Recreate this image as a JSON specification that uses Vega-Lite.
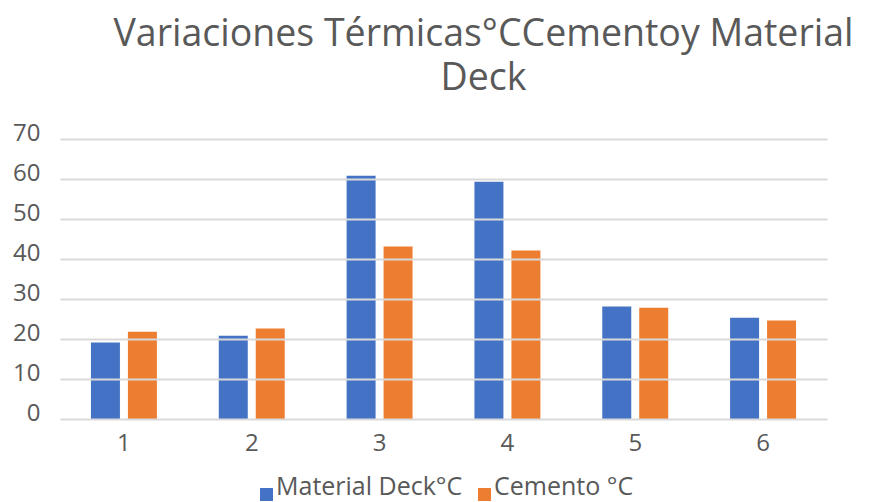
{
  "$schema": "https://vega.github.io/schema/vega-lite/v6.json",
  "width": 767,
  "height": 280,
  "autosize": {"type": "none"},
  "padding": {"left": 60, "top": 139, "right": 56, "bottom": 84},
  "background": "white",
  "title": {
    "text": ["Variaciones Térmicas°CCementoy Material", "Deck"],
    "anchor": "middle",
    "dx": 40,
    "fontSize": 37.5,
    "lineHeight": 44,
    "font": "Open Sans",
    "fontWeight": "normal",
    "color": "#595959",
    "offset": 24
  },
  "data": {
    "values": [
      {"punto": "1", "serie": "Material Deck°C", "temp": 19.1},
      {"punto": "1", "serie": "Cemento °C", "temp": 21.8},
      {"punto": "2", "serie": "Material Deck°C", "temp": 20.8},
      {"punto": "2", "serie": "Cemento °C", "temp": 22.6},
      {"punto": "3", "serie": "Material Deck°C", "temp": 60.8},
      {"punto": "3", "serie": "Cemento °C", "temp": 43.1},
      {"punto": "4", "serie": "Material Deck°C", "temp": 59.3},
      {"punto": "4", "serie": "Cemento °C", "temp": 42.1},
      {"punto": "5", "serie": "Material Deck°C", "temp": 28.1},
      {"punto": "5", "serie": "Cemento °C", "temp": 27.8},
      {"punto": "6", "serie": "Material Deck°C", "temp": 25.3},
      {"punto": "6", "serie": "Cemento °C", "temp": 24.6}
    ]
  },
  "mark": {"type": "bar"},
  "encoding": {
    "x": {
      "field": "punto",
      "type": "nominal",
      "scale": {"paddingInner": 0.484, "paddingOuter": 0.242},
      "axis": {
        "title": null,
        "labelAngle": 0,
        "labelFont": "Open Sans",
        "labelFontSize": 24,
        "labelColor": "#595959",
        "labelPadding": 12,
        "ticks": false,
        "domain": false,
        "grid": false
      }
    },
    "xOffset": {
      "field": "serie",
      "type": "nominal",
      "sort": ["Material Deck°C", "Cemento °C"],
      "scale": {"paddingInner": 0.216, "paddingOuter": 0}
    },
    "y": {
      "field": "temp",
      "type": "quantitative",
      "scale": {"domain": [0, 70], "nice": false},
      "axis": {
        "title": null,
        "values": [0, 10, 20, 30, 40, 50, 60, 70],
        "labelFont": "Open Sans",
        "labelFontSize": 24,
        "labelColor": "#595959",
        "labelPadding": 20,
        "labelOffset": -6,
        "ticks": false,
        "domain": false,
        "grid": true,
        "gridColor": "#D9D9D9",
        "gridWidth": 2,
        "zindex": 1
      }
    },
    "color": {
      "field": "serie",
      "type": "nominal",
      "sort": ["Material Deck°C", "Cemento °C"],
      "scale": {"domain": ["Material Deck°C", "Cemento °C"], "range": ["#4472C4", "#ED7D31"]},
      "legend": {
        "title": null,
        "orient": "bottom",
        "direction": "horizontal",
        "labelFont": "Open Sans",
        "labelFontSize": 25,
        "labelColor": "#595959",
        "labelBaseline": "alphabetic",
        "symbolType": "square",
        "symbolSize": 169,
        "symbolStrokeWidth": 0,
        "labelOffset": -3,
        "columnPadding": 9,
        "offset": 27,
        "labelLimit": 400
      }
    }
  },
  "config": {
    "view": {"stroke": null},
    "legend": {"layout": {"bottom": {"anchor": "middle"}}}
  }
}
